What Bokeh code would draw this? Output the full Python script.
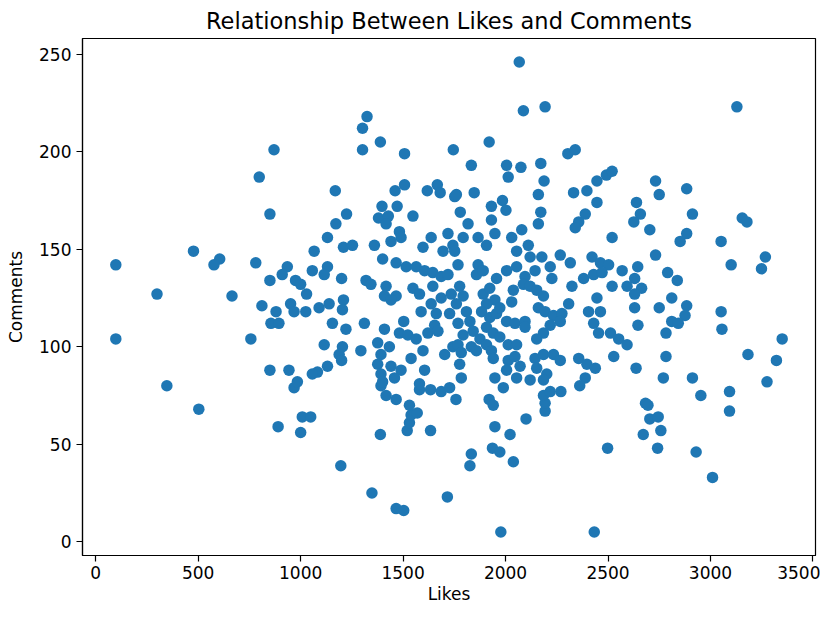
from bokeh.plotting import figure
from bokeh.models import Range1d, FixedTicker
from bokeh.embed import file_html
from bokeh.resources import INLINE

likes = [
    98, 98, 299, 347, 503, 477, 605, 577, 665, 781, 850, 850, 811, 880, 855, 894, 757, 850, 890, 798, 870,
    1324, 1302, 1302, 1389, 1507, 1745, 1169, 1461, 1507, 1618, 1667, 1681, 1752, 1224, 1397, 1471, 1380, 1428, 1548,
    2067, 2087, 2193, 1920, 2304, 2340, 1833, 2005, 2013, 2075, 2172, 2188, 1847, 1760, 1985, 1931, 2002, 1779,
    2160, 2172, 2332, 2397, 2446, 2492, 2520, 2446, 2389, 2639,
    3129, 2732, 2750, 2884, 2658, 2912, 3155, 3178,
    2626, 2704, 2884, 2852, 3052, 2732, 3101, 3268, 3249, 2645, 2630, 2791, 2838, 2664, 2630, 2811, 2884, 2750,
    2630, 2876, 2811, 2843, 3052, 3056, 2646, 2783, 3350, 3183, 3322, 2783, 2637, 2770, 2912, 3276,
    2953, 3093, 3093, 2683, 2695, 2704, 2745, 2672, 2758, 2742, 2930, 3010,
    1977, 2433, 2498, 1833, 1826, 1936, 1972, 2038, 1948, 2022, 2100, 1920, 1940, 2193, 2193, 2185, 2218, 2270, 1989,
    1716, 968, 984, 1008, 1049, 1000, 1196, 1389, 1348, 1466, 1503, 1520, 1634, 1531, 1539, 1569, 1531, 1392, 1417,
    1466, 1580, 1634, 1686, 1727, 1758,
    1172, 1131, 1066, 1209, 1253, 935, 910, 1057, 1131, 1115, 975, 1000, 1200, 1029, 951, 968, 1025, 1090, 1139,
    1209, 1204, 1155, 1221, 1311, 1409, 1115, 1204, 1188, 1294, 1200, 943, 1082, 1131, 1057,
    1417, 1482, 1490, 1441, 1360, 1637, 1719, 1597, 1695, 1743, 1400, 1466, 1515, 1564, 1605, 1645, 1686, 1719,
    1319, 1343, 1417, 1409, 1466, 1441, 1548, 1580, 1645, 1686, 1735, 1637, 1588, 1662, 1727, 1503, 1654, 1482,
    1523, 1564, 1621, 1670, 1376, 1433, 1392, 1376, 1441, 1490, 1392, 1400, 1458, 1539, 1597, 1605, 1703, 1743, 1580,
    1931, 2160, 1817, 2357, 2340, 2520, 1793, 1866, 1907, 1948, 2030, 2079, 1752, 1768, 2054, 2111, 2120, 2177,
    2267, 2316, 2422, 2463, 2503, 1866, 1858, 1891, 1956, 2005, 2054, 2095, 2144, 2218, 2226, 2324, 2381, 2430,
    2471, 2520, 2569, 2593, 1776, 1793, 1760, 1809, 1768, 1826, 1842, 1793, 1768, 1833, 1784, 1891, 1923, 1948,
    1907, 1883, 1923, 1956, 1972, 2005, 2046, 2030, 2038, 2087, 2120, 1907, 1940, 1875, 1972, 1907, 1858, 1931,
    2013, 2054, 2152, 2185, 2160, 2193, 2234, 2275, 2308, 2267, 2218, 2185, 2152, 2095, 2095, 2446, 2405, 2463,
    2430, 2454, 2512, 2552, 2593, 1776, 1940, 2013, 2046, 2005, 2071, 2144, 2185, 2234, 2267, 2152, 2201, 2357,
    2397, 2438, 2528, 1948, 2054, 2120, 2185, 2389, 1784, 2362,
]

comments = [
    142, 104, 127, 80, 68, 149, 145, 142, 126, 143, 168, 134, 121, 118, 112, 112, 104, 88, 59, 187, 201,
    218, 212, 201, 205, 199, 201, 180, 180, 183, 180, 183, 179, 177, 168, 172, 172, 166, 167, 167,
    246, 221, 223, 205, 199, 201, 193, 193, 187, 192, 194, 185, 179, 178, 175, 172, 170, 169,
    178, 169, 179, 180, 185, 188, 190, 174, 168, 174,
    223, 185, 178, 181, 168, 168, 166, 164,
    164, 160, 158, 154, 154, 147, 142, 146, 140, 141, 135, 138, 134, 130, 127, 125, 121, 120,
    120, 116, 113, 112, 118, 109, 111, 107, 104, 96, 93, 95, 89, 84, 84, 82,
    75, 77, 67, 71, 70, 63, 64, 55, 57, 48, 46, 33,
    5, 5, 48, 45, 39, 48, 46, 41, 59, 55, 63, 73, 70, 67, 71, 75, 77, 77, 79,
    23, 79, 82, 64, 64, 56, 39, 55, 25, 17, 16, 57, 57, 61, 65, 66, 70, 80, 75,
    73, 78, 78, 77, 79, 73,
    163, 156, 149, 151, 152, 141, 137, 139, 141, 137, 134, 132, 135, 127, 122, 118, 118, 120, 122,
    124, 119, 112, 109, 112, 109, 101, 100, 96, 98, 93, 88, 87, 90, 86,
    163, 159, 156, 154, 152, 156, 158, 151, 149, 152, 145, 143, 141, 141, 139, 138, 136, 137,
    134, 132, 131, 126, 126, 124, 130, 127, 131, 125, 127, 122, 118, 117, 117, 113, 111, 107,
    106, 104, 107, 108, 102, 100, 96, 91, 90, 88, 86, 82, 84, 94, 98, 88, 96, 100, 81,
    165, 163, 163, 164, 161, 156, 156, 156, 152, 158, 156, 160, 149, 142, 149, 152, 146, 146,
    147, 143, 146, 143, 142, 142, 137, 139, 135, 139, 141, 136, 139, 141, 135, 131, 135, 137,
    138, 131, 139, 131, 131, 126, 122, 118, 112, 113, 108, 106, 101, 100, 97, 127, 130, 124,
    122, 118, 115, 117, 120, 113, 112, 123, 129, 132, 131, 110, 107, 104, 105, 101, 98, 98,
    101, 101, 129, 126, 120, 118, 116, 117, 122, 113, 111, 107, 104, 113, 110, 125, 118, 118,
    112, 107, 107, 104, 101, 91, 94, 93, 95, 88, 90, 94, 96, 96, 93, 89, 86, 94,
    91, 89, 95, 84, 84, 83, 83, 84, 84, 80,
]

x_ticks = [0, 500, 1000, 1500, 2000, 2500, 3000, 3500]
y_ticks = [0, 50, 100, 150, 200, 250]

n = min(len(likes), len(comments))
likes = likes[:n]
comments = comments[:n]

xpad = (max(likes) - min(likes)) * 0.05
ypad = (max(comments) - min(comments)) * 0.05

FONT = "DejaVu Sans"

p = figure(
    width=820, height=606,
    output_backend="svg", toolbar_location=None,
    x_range=Range1d(min(likes) - xpad, max(likes) + xpad),
    y_range=Range1d(min(comments) - ypad, max(comments) + ypad),
    title="Relationship Between Likes and Comments",
    min_border_left=82, min_border_right=5, min_border_top=36, min_border_bottom=30,
)
p.title.align = "center"
p.title.text_font = FONT
p.title.text_font_size = "22.5px"
p.title.text_font_style = "normal"
p.title.text_color = "black"

p.scatter(likes, comments, size=11.5, fill_color="#1f77b4", line_color="#1f77b4", line_width=0)

p.xgrid.visible = False
p.ygrid.visible = False
p.outline_line_color = "black"
p.outline_line_alpha = 1.0
p.outline_line_width = 1.2

for ax in (p.xaxis[0], p.yaxis[0]):
    ax.axis_line_color = "black"
    ax.axis_line_width = 1.2
    ax.major_tick_line_color = "black"
    ax.major_tick_line_width = 1.2
    ax.major_tick_out = 6
    ax.major_tick_in = 0
    ax.minor_tick_line_color = None
    ax.major_label_text_font = FONT
    ax.major_label_text_font_size = "17px"
    ax.major_label_text_color = "black"
    ax.axis_label_text_font = FONT
    ax.axis_label_text_font_size = "17px"
    ax.axis_label_text_font_style = "normal"
    ax.axis_label_text_color = "black"

p.xaxis[0].ticker = FixedTicker(ticks=x_ticks)
p.yaxis[0].ticker = FixedTicker(ticks=y_ticks)
p.xaxis[0].axis_label = "Likes"
p.yaxis[0].axis_label = "Comments"
p.xaxis[0].major_label_standoff = 4
p.yaxis[0].major_label_standoff = 5
p.xaxis[0].axis_label_standoff = 2
p.yaxis[0].axis_label_standoff = 10

open("out.html", "w").write(file_html(p, INLINE))
